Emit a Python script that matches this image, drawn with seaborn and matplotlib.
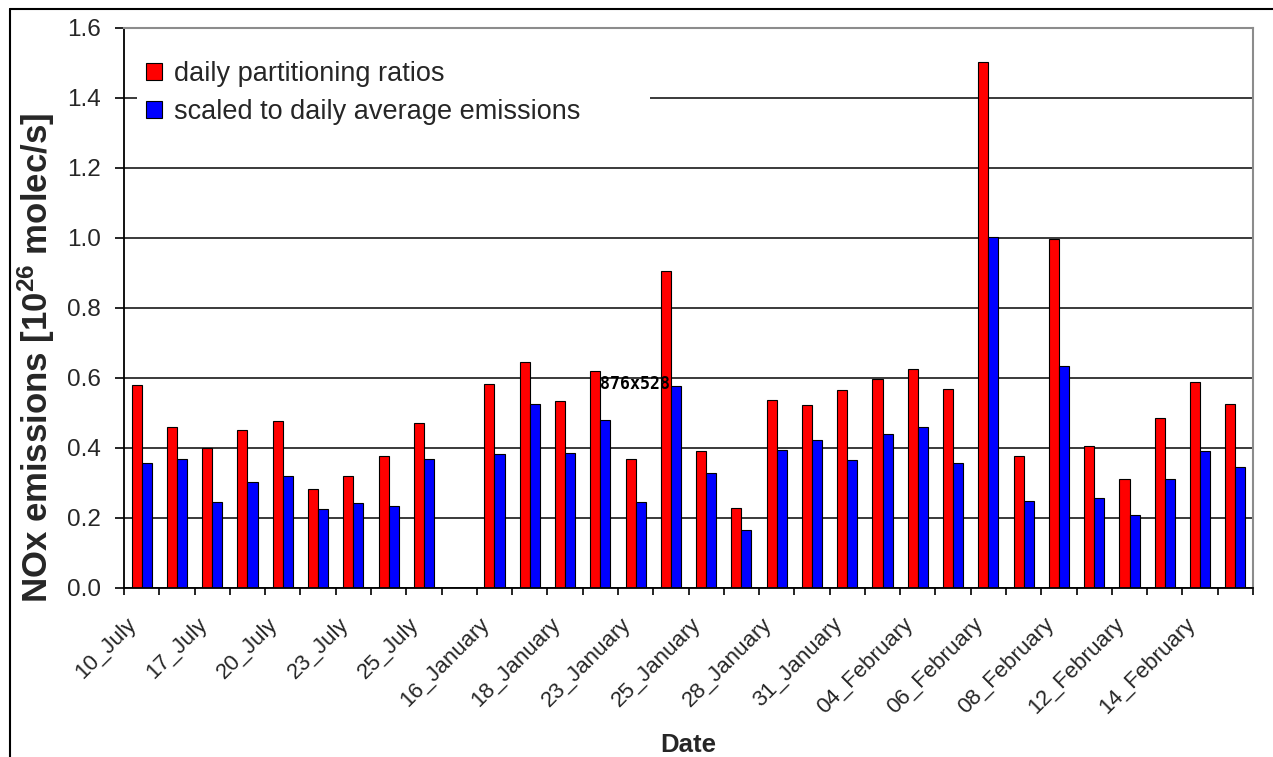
import numpy as np
import pandas as pd
import seaborn as sns
import matplotlib
matplotlib.use("Agg")
import matplotlib.pyplot as plt
from matplotlib.patches import Rectangle
from matplotlib.lines import Line2D
from matplotlib.transforms import ScaledTranslation

# ---------------- data ----------------
dates = ["10_July", "16_July", "17_July", "19_July", "20_July", "22_July",
         "23_July", "24_July", "25_July", " ", "16_January", "17_January",
         "18_January", "22_January", "23_January", "24_January", "25_January",
         "27_January", "28_January", "30_January", "31_January", "03_February",
         "04_February", "05_February", "06_February", "07_February",
         "08_February", "11_February", "12_February", "13_February",
         "14_February", "15_February"]

daily_ratios = [0.579, 0.460, 0.400, 0.451, 0.477, 0.282, 0.319, 0.377, 0.472,
                np.nan, 0.584, 0.645, 0.534, 0.621, 0.369, 0.906, 0.391, 0.229,
                0.538, 0.523, 0.567, 0.598, 0.625, 0.568, 1.504, 0.377, 0.997,
                0.407, 0.311, 0.485, 0.588, 0.526]

scaled_avg = [0.357, 0.370, 0.246, 0.303, 0.320, 0.225, 0.242, 0.233, 0.370,
              np.nan, 0.382, 0.526, 0.386, 0.481, 0.245, 0.578, 0.329, 0.167,
              0.394, 0.423, 0.365, 0.439, 0.460, 0.357, 1.004, 0.250, 0.633,
              0.257, 0.209, 0.311, 0.391, 0.345]

series_names = ["daily partitioning ratios", "scaled to daily average emissions"]
series_colors = ["#FF0000", "#0000FF"]
y_ticks = [0.0, 0.2, 0.4, 0.6, 0.8, 1.0, 1.2, 1.4, 1.6]

df = pd.DataFrame({
    "Date": dates * 2,
    "value": daily_ratios + scaled_avg,
    "series": [series_names[0]] * len(dates) + [series_names[1]] * len(dates),
})

# ---------------- style ----------------
sns.set_style("white")
plt.rcParams["font.family"] = ["Liberation Sans", "DejaVu Sans"]
plt.rcParams["mathtext.fontset"] = "custom"
plt.rcParams["mathtext.rm"] = "Liberation Sans:bold"
plt.rcParams["mathtext.bf"] = "Liberation Sans:bold"
plt.rcParams["mathtext.default"] = "bf"

W, H = 1273, 757
fig = plt.figure(figsize=(W / 100, H / 100), dpi=100)
fig.patch.set_facecolor("white")
ax = fig.add_axes([124 / W, 1 - 588 / H, (1253 - 124) / W, (588 - 28) / H])

sns.barplot(data=df, x="Date", y="value", hue="series", order=dates,
            hue_order=series_names, palette=series_colors, saturation=1,
            width=0.57, edgecolor="black", linewidth=0.8, errorbar=None, ax=ax)

ax.set_xlim(-0.5, len(dates) - 0.5)
ax.set_ylim(0, 1.6)

# grid & spines
ax.set_axisbelow(True)
ax.yaxis.grid(True, color="#3a3a3a", linewidth=1.4)
ax.xaxis.grid(False)
for s in ["left", "bottom"]:
    ax.spines[s].set_color("black")
    ax.spines[s].set_linewidth(1.3)
for s in ["top", "right"]:
    ax.spines[s].set_color("#8c8c8c")
    ax.spines[s].set_linewidth(1.5)

# y axis
ax.set_yticks(y_ticks)
ax.set_yticklabels([f"{v:.1f}" for v in y_ticks])
ax.tick_params(axis="y", direction="out", length=6.5, width=1.2,
               color="black", pad=10, labelsize=17.5, left=True)

# x axis: ticks between categories, labels every other category
ax.set_xticks(np.arange(0, len(dates), 2))
ax.set_xticklabels(dates[::2], rotation=45, ha="right",
                   rotation_mode="anchor", va="center")
ax.set_xticks(np.arange(-0.5, len(dates), 1), minor=True)
ax.tick_params(axis="x", which="major", length=0, pad=24, labelsize=16)
ax.tick_params(axis="x", which="minor", direction="out", length=5,
               width=1.2, color="black", bottom=True)
offset = ScaledTranslation(-8 / 100, 0, fig.dpi_scale_trans)
for lab in ax.get_xticklabels():
    lab.set_transform(lab.get_transform() + offset)

# axis titles
ax.set_xlabel("Date", fontsize=18.5, fontweight="bold")
ax.xaxis.set_label_coords((688 - 124) / 1129, (588 - 733) / 560)
ax.set_ylabel("NOx emissions [10$^{26}$ molec/s]", fontsize=25,
              fontweight="bold")
ax.yaxis.set_label_coords((57 - 124) / 1129, (588 - 358) / 560)

# legend (white block hiding gridlines behind it)
ax.add_artist(Rectangle((137 / W, 1 - 130 / H), (650 - 137) / W, 82 / H,
                        transform=fig.transFigure, facecolor="white",
                        edgecolor="none", zorder=3))
handles, labels = ax.get_legend_handles_labels()
ax.legend(handles, labels, loc="upper left",
          bbox_to_anchor=(146 / W, 1 - 61 / H), bbox_transform=fig.transFigure,
          frameon=False, fontsize=19.5, handlelength=0.6, handleheight=0.6,
          handletextpad=0.45, labelspacing=0.45, borderpad=0, borderaxespad=0)

# screenshot size overlay text present in the reference
fig.text(600 / W, 1 - 384 / H, "876x528", fontsize=12, fontweight="bold",
         family="DejaVu Sans Mono", va="center", ha="left", color="black")

# outer frame of the picture
fig.add_artist(Line2D([10 / W, 10 / W], [0, 1 - 9 / H], color="black",
                      linewidth=1.5, transform=fig.transFigure))
fig.add_artist(Line2D([10 / W, 1], [1 - 9 / H, 1 - 9 / H], color="black",
                      linewidth=1.5, transform=fig.transFigure))

fig.savefig("out.png", dpi=100)
